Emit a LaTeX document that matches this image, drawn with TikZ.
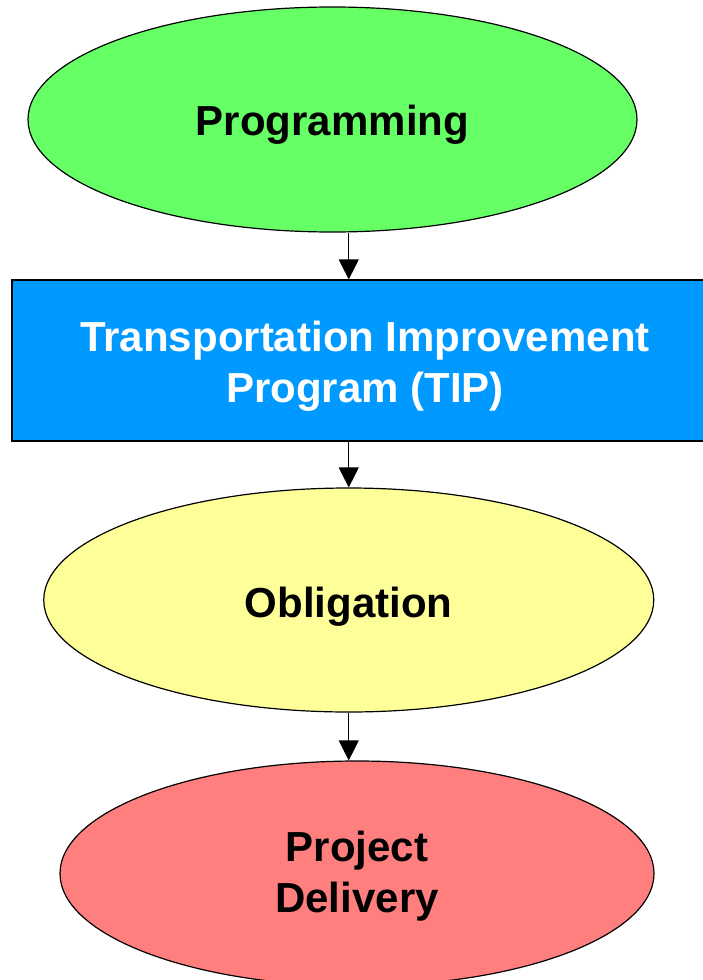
\documentclass[tikz,border=0pt]{standalone}
\usepackage{fontspec}
\setmainfont{Liberation Sans}
\usetikzlibrary{shapes.geometric,arrows.meta}
\definecolor{cgreen}{HTML}{66FF66}
\definecolor{cblue}{HTML}{0099FF}
\definecolor{cyellow}{HTML}{FFFF99}
\definecolor{cred}{HTML}{FF7F7F}
\tikzset{
  lbl/.style={font=\fontsize{42}{51}\selectfont\bfseries, align=center},
  oval/.style={ellipse, draw=black, line width=1.2pt, inner sep=0pt, lbl},
  box/.style={rectangle, draw=black, line width=1.2pt, inner sep=0pt, lbl, text=white},
  arr/.style={line width=1.2pt, -{Triangle[length=20pt,width=20pt]}}
}
\begin{document}
\begin{tikzpicture}[x=1pt,y=-1pt]
\useasboundingbox (0,0) rectangle (702,980);
\node[oval, fill=cgreen, minimum width=609pt, minimum height=225pt, text height=32pt, text depth=0pt] (prog) at (332.5,119.5) {Programming};
\node[box, fill=cblue, minimum width=706pt, minimum height=161pt, text height=83pt, text depth=0pt] (tip) at (365,360.5) {Transportation Improvement\\Program (TIP)};
\node[oval, fill=cyellow, minimum width=610pt, minimum height=224pt, text height=34pt, text depth=0pt] (obl) at (348.75,600) {Obligation};
\node[oval, fill=cred, minimum width=594pt, minimum height=225pt, text height=78pt, text depth=0pt] (del) at (357,873.5) {Project\\Delivery};
\draw[arr] (prog.south -| obl.center) -- (tip.north -| obl.center);
\draw[arr] (tip.south -| obl.center) -- (obl.north);
\draw[arr] (obl.south) -- (del.north -| obl.center);
\end{tikzpicture}
\end{document}
